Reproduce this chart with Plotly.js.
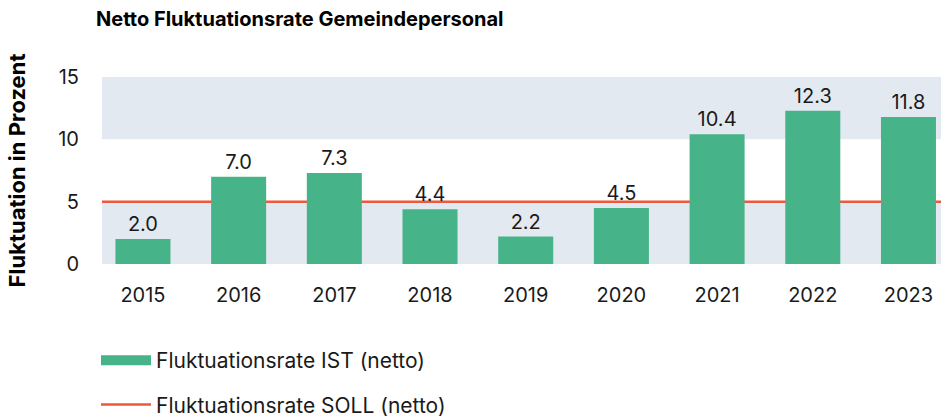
<!DOCTYPE html>
<html>
<head>
<meta charset="utf-8">
<script src="https://cdn.plot.ly/plotly-3.0.1.min.js"></script>
<style>html,body{margin:0;padding:0;background:#fff;}#chart{width:941px;height:417px;}</style>
</head>
<body>
<div id="chart"></div>
<script>
const years = ['2015','2016','2017','2018','2019','2020','2021','2022','2023'];
const istValues = [2.0, 7.0, 7.3, 4.4, 2.2, 4.5, 10.4, 12.3, 11.8];
const sollValue = 5;
const yTicks = [0, 5, 10, 15];
const bandRanges = [[0, 5], [10, 15]];
const chartTitle = 'Netto Fluktuationsrate Gemeindepersonal';
const yTitle = 'Fluktuation in Prozent';
const istName = 'Fluktuationsrate IST (netto)';
const sollName = 'Fluktuationsrate SOLL (netto)';

const GREEN = '#47b389';
const RED = '#ec5a3e';
const BAND = '#e3e9f0';
const TXT = '#1a1a1a';
const FONT = 'Inter, "Open Sans", sans-serif';

const traces = [
  {
    type: 'bar', x: years, y: istValues, marker: {color: GREEN},
    width: 0.575, showlegend: false, hoverinfo: 'skip',
    text: istValues.map(v => v.toFixed(1)), textposition: 'outside',
    textfont: {family: FONT, size: 20, color: TXT}, cliponaxis: false
  },
  {
    type: 'scatter', mode: 'lines', x: [null], y: [null], name: istName,
    line: {color: GREEN, width: 10}, legendgroup: 'a'
  },
  {
    type: 'scatter', mode: 'lines', x: [null], y: [null], name: sollName,
    line: {color: RED, width: 2.5}, legendgroup: 'b'
  }
];

const shapes = bandRanges.map(r => ({
  type: 'rect', xref: 'paper', x0: 0, x1: 1, yref: 'y', y0: r[0], y1: r[1],
  fillcolor: BAND, line: {width: 0}, layer: 'below'
}));
shapes.push({
  type: 'line', xref: 'paper', x0: 0, x1: 1, yref: 'y', y0: sollValue, y1: sollValue,
  line: {color: RED, width: 2.5}, layer: 'below'
});

const layout = {
  width: 941, height: 417,
  margin: {l: 102, r: 0, t: 77, b: 153, autoexpand: false},
  paper_bgcolor: '#fff', plot_bgcolor: 'rgba(0,0,0,0)',
  font: {family: FONT, color: TXT, size: 20},
  title: {
    text: '<b>' + chartTitle + '</b>', xref: 'container', x: 96/941, xanchor: 'left',
    yref: 'container', y: 1 - 19/417, yanchor: 'middle',
    font: {family: FONT, size: 20, color: '#000'}
  },
  xaxis: {
    type: 'category', range: [-0.428, 8.34], showgrid: false, zeroline: false,
    showline: false, ticks: '', ticklabelstandoff: 17, automargin: false,
    tickfont: {family: FONT, size: 20, color: TXT}, fixedrange: true
  },
  yaxis: {
    range: [0, 15], tickvals: yTicks, showgrid: false, zeroline: false, showline: false,
    ticks: '', ticklabelstandoff: 22, automargin: false,
    tickfont: {family: FONT, size: 20, color: TXT},
    title: {text: '<b>' + yTitle + '</b>', standoff: 26, font: {family: FONT, size: 22, color: '#000'}},
    fixedrange: true
  },
  shapes: shapes,
  showlegend: true,
  legend: {
    orientation: 'v', traceorder: 'grouped', tracegroupgap: 14,
    x: -6/839, xanchor: 'left',
    y: -76/187, yanchor: 'top',
    itemwidth: 50, font: {family: FONT, size: 21, color: TXT},
    bgcolor: 'rgba(0,0,0,0)'
  },
  bargap: 0.4
};

Plotly.newPlot('chart', traces, layout, {displayModeBar: false, staticPlot: true});
</script>
</body>
</html>
